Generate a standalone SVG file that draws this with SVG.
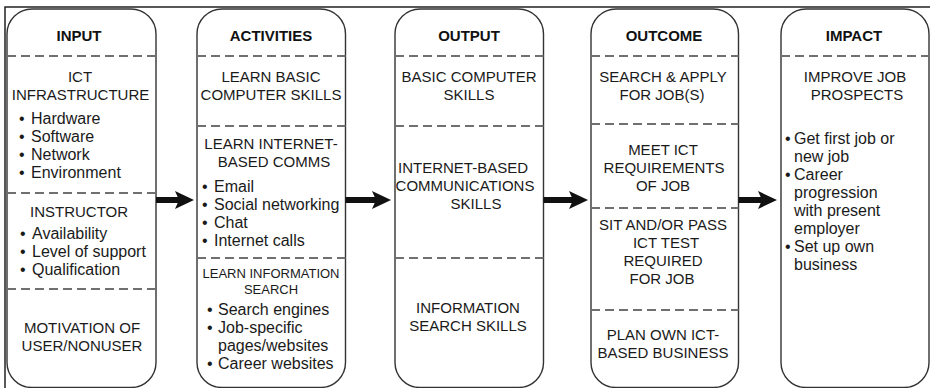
<svg xmlns="http://www.w3.org/2000/svg" width="933" height="388" viewBox="0 0 933 388">
<style>
text{font-family:"Liberation Sans",Arial,sans-serif;fill:#1a1a1a}
.h{font-size:15px;font-weight:bold;text-anchor:middle;fill:#111}
.t{font-size:15px;text-anchor:middle}
.s{font-size:13px;text-anchor:middle}
.b{font-size:16px}
.box{fill:#fff;stroke:#333;stroke-width:1.4}
.dash{stroke:#707070;stroke-width:2;stroke-dasharray:9 5;fill:none}
.frame{stroke:#222;stroke-width:1.5;fill:none}
.arrow{stroke:#111;stroke-width:6;fill:none}
</style>
<defs>
<marker id="head" markerUnits="userSpaceOnUse" markerWidth="19" markerHeight="18" viewBox="0 0 19 18" refX="4" refY="9" orient="auto">
<path d="M0,0 L19,9 L0,18 L4,9 Z" fill="#111"/>
</marker>
</defs>
<rect width="933" height="388" fill="#fff"/>
<path class="frame" d="M5,388 V7 H930"/>

<g id="input">
<rect class="box" x="7" y="9" width="149" height="378.5" rx="25"/>
<text class="h" x="79" y="41">INPUT</text>
<line class="dash" x1="7" y1="56" x2="156" y2="56"/>
<text class="t" x="80" y="82">ICT</text>
<text class="t" x="80.5" y="100">INFRASTRUCTURE</text>
<text class="b" y="124"><tspan x="19">•</tspan><tspan x="31">Hardware</tspan></text>
<text class="b" y="142"><tspan x="19">•</tspan><tspan x="31">Software</tspan></text>
<text class="b" y="160"><tspan x="19">•</tspan><tspan x="31">Network</tspan></text>
<text class="b" y="178"><tspan x="19">•</tspan><tspan x="31">Environment</tspan></text>
<line class="dash" x1="7" y1="193" x2="156" y2="193"/>
<text class="t" x="79" y="217">INSTRUCTOR</text>
<text class="b" y="239"><tspan x="20">•</tspan><tspan x="32">Availability</tspan></text>
<text class="b" y="257"><tspan x="20">•</tspan><tspan x="32">Level of support</tspan></text>
<text class="b" y="275"><tspan x="20">•</tspan><tspan x="32">Qualification</tspan></text>
<line class="dash" x1="7" y1="289" x2="156" y2="289"/>
<text class="t" x="82" y="333">MOTIVATION OF</text>
<text class="t" x="82" y="351">USER/NONUSER</text>
</g>

<g id="activities">
<rect class="box" x="197" y="9" width="148.5" height="378.5" rx="25"/>
<text class="h" x="271" y="41">ACTIVITIES</text>
<line class="dash" x1="197" y1="56" x2="345.5" y2="56"/>
<text class="t" x="271" y="82">LEARN BASIC</text>
<text class="t" x="271" y="100">COMPUTER SKILLS</text>
<line class="dash" x1="197" y1="126" x2="345.5" y2="126"/>
<text class="t" x="271" y="149">LEARN INTERNET-</text>
<text class="t" x="274" y="167">BASED COMMS</text>
<text class="b" y="192"><tspan x="202">•</tspan><tspan x="214">Email</tspan></text>
<text class="b" y="210"><tspan x="202">•</tspan><tspan x="214">Social networking</tspan></text>
<text class="b" y="228"><tspan x="202">•</tspan><tspan x="214">Chat</tspan></text>
<text class="b" y="246"><tspan x="202">•</tspan><tspan x="214">Internet calls</tspan></text>
<line class="dash" x1="197" y1="258" x2="345.5" y2="258"/>
<text class="s" x="271" y="278">LEARN INFORMATION</text>
<text class="s" x="271" y="294">SEARCH</text>
<text class="b" y="315"><tspan x="207">•</tspan><tspan x="218">Search engines</tspan></text>
<text class="b" y="333"><tspan x="207">•</tspan><tspan x="218">Job-specific</tspan></text>
<text class="b" x="218" y="351">pages/websites</text>
<text class="b" y="369"><tspan x="207">•</tspan><tspan x="218">Career websites</tspan></text>
</g>

<g id="output">
<rect class="box" x="395" y="9" width="148.5" height="378.5" rx="25"/>
<text class="h" x="469" y="41">OUTPUT</text>
<line class="dash" x1="395" y1="56" x2="543.5" y2="56"/>
<text class="t" x="469" y="82">BASIC COMPUTER</text>
<text class="t" x="469" y="100">SKILLS</text>
<line class="dash" x1="395" y1="126" x2="543.5" y2="126"/>
<text class="t" x="463" y="173">INTERNET-BASED</text>
<text class="t" x="465" y="191">COMMUNICATIONS</text>
<text class="t" x="476" y="209">SKILLS</text>
<line class="dash" x1="395" y1="258" x2="543.5" y2="258"/>
<text class="t" x="468" y="313">INFORMATION</text>
<text class="t" x="468" y="331">SEARCH SKILLS</text>
</g>

<g id="outcome">
<rect class="box" x="591" y="9" width="147.5" height="378.5" rx="25"/>
<text class="h" x="664" y="41">OUTCOME</text>
<line class="dash" x1="591" y1="56" x2="738.5" y2="56"/>
<text class="t" x="663" y="82">SEARCH &amp; APPLY</text>
<text class="t" x="662" y="100">FOR JOB(S)</text>
<line class="dash" x1="591" y1="124" x2="738.5" y2="124"/>
<text class="t" x="663" y="155">MEET ICT</text>
<text class="t" x="664" y="173">REQUIREMENTS</text>
<text class="t" x="663" y="191">OF JOB</text>
<line class="dash" x1="591" y1="208" x2="738.5" y2="208"/>
<text class="t" x="663" y="230">SIT AND/OR PASS</text>
<text class="t" x="666" y="248">ICT TEST</text>
<text class="t" x="663" y="266">REQUIRED</text>
<text class="t" x="662" y="284">FOR JOB</text>
<line class="dash" x1="591" y1="310" x2="738.5" y2="310"/>
<text class="t" x="663" y="340">PLAN OWN ICT-</text>
<text class="t" x="663" y="358">BASED BUSINESS</text>
</g>

<g id="impact">
<rect class="box" x="781" y="9" width="148" height="378.5" rx="25"/>
<text class="h" x="854" y="41">IMPACT</text>
<line class="dash" x1="781" y1="56" x2="929" y2="56"/>
<text class="t" x="855" y="82">IMPROVE JOB</text>
<text class="t" x="857" y="100">PROSPECTS</text>
<text class="b" y="144"><tspan x="785">•</tspan><tspan x="794">Get first job or</tspan></text>
<text class="b" x="794" y="162">new job</text>
<text class="b" y="180"><tspan x="785">•</tspan><tspan x="794">Career</tspan></text>
<text class="b" x="794" y="198">progression</text>
<text class="b" x="794" y="216">with present</text>
<text class="b" x="794" y="234">employer</text>
<text class="b" y="252"><tspan x="785">•</tspan><tspan x="794">Set up own</tspan></text>
<text class="b" x="794" y="270">business</text>
</g>

<g id="connectors">
<line class="arrow" x1="156" y1="200" x2="179" y2="200" marker-end="url(#head)"/>
<line class="arrow" x1="345.5" y1="200" x2="376" y2="200" marker-end="url(#head)"/>
<line class="arrow" x1="543.5" y1="200" x2="573" y2="200" marker-end="url(#head)"/>
<line class="arrow" x1="738.5" y1="200" x2="762" y2="200" marker-end="url(#head)"/>
</g>
</svg>
